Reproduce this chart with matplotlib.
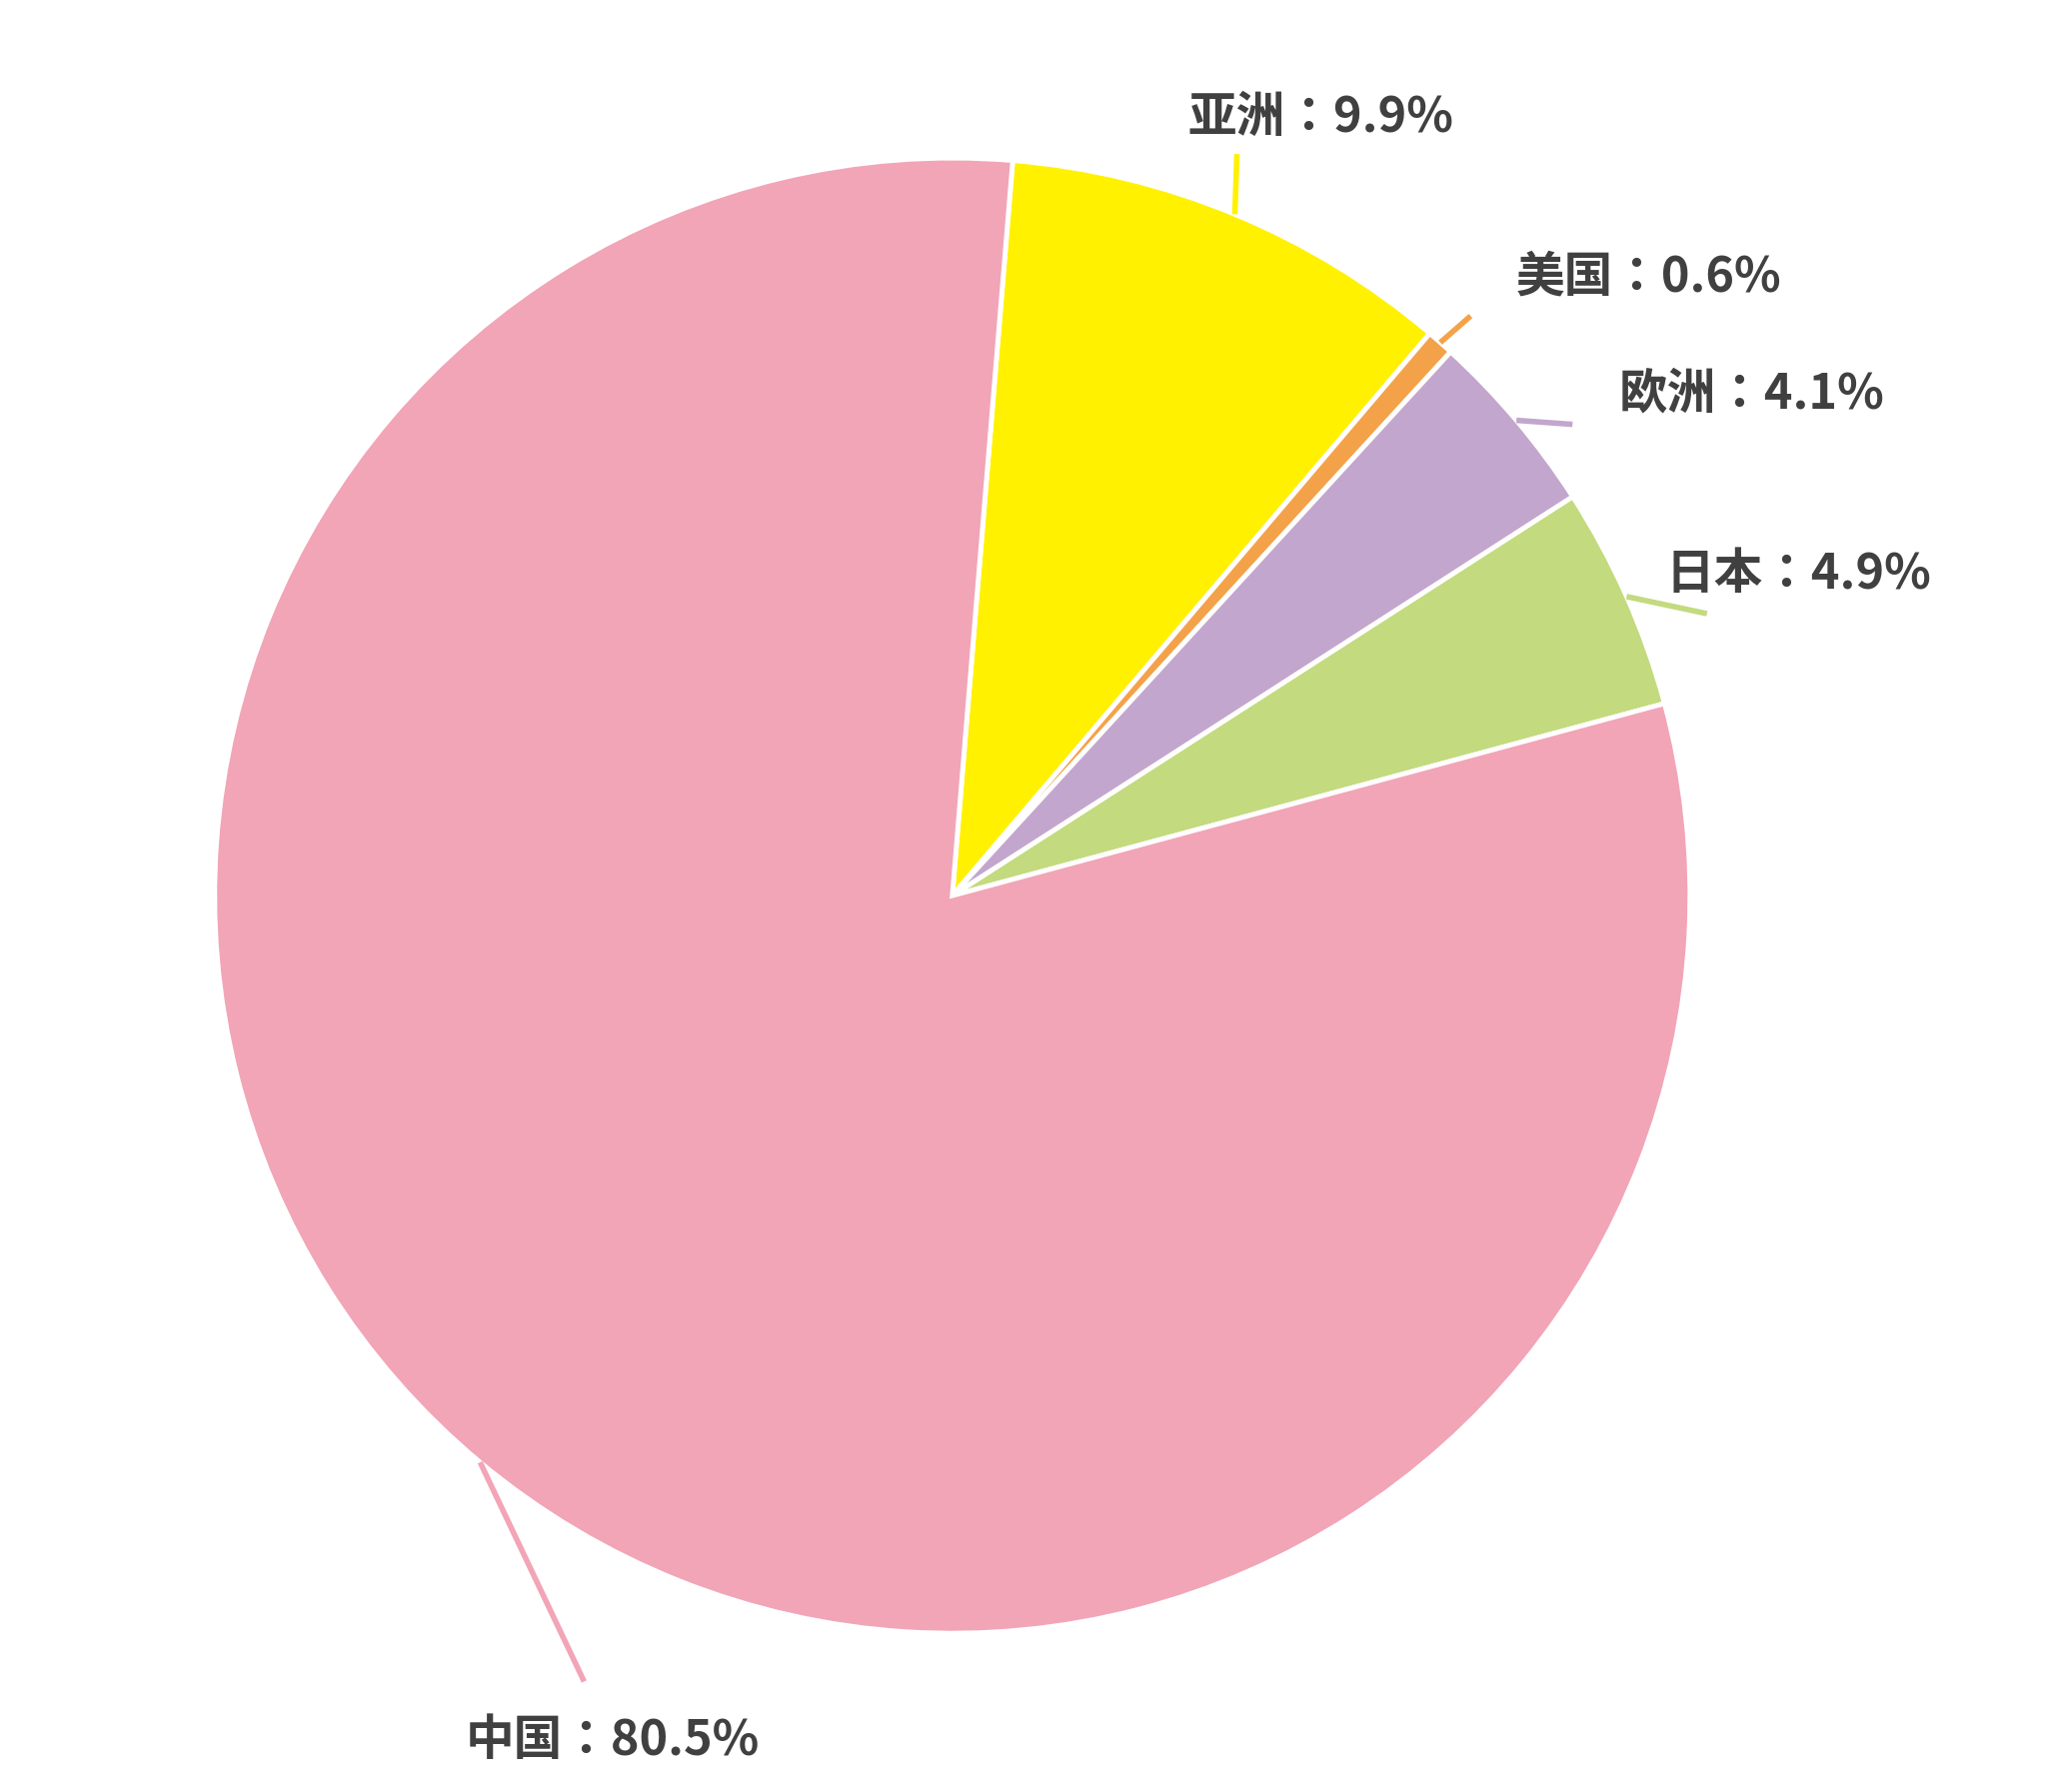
import numpy as np
import matplotlib
matplotlib.use("Agg")
import matplotlib.pyplot as plt

plt.rcParams["font.family"] = ["Noto Sans CJK JP", "DejaVu Sans"]

labels = ["亚洲", "美国", "欧洲", "日本", "中国"]
values = [9.9, 0.6, 4.1, 4.9, 80.5]
colors = ["#FFF100", "#F4A24A", "#C3A6CD", "#C3DA7E", "#F2A5B7"]

# label anchor points (displayed px of a 1568-wide view) and leader end points
label_pos = [(1012, 90), (1263, 212), (1342, 302), (1378, 440), (470, 1333)]
leader_end = [(948, 118), (1127, 242), (1205, 325), (1308, 470), (448, 1288)]
CX, CY, R = 730, 686, 565


def to_data(p):
    return ((p[0] - CX) / R, (CY - p[1]) / R)


fig = plt.figure(figsize=(20.48, 17.93), dpi=100)
ax = fig.add_axes([0, 0, 1, 1])
wedges, _ = ax.pie(values, colors=colors, startangle=85.3, counterclock=False,
                   wedgeprops=dict(edgecolor="white", linewidth=3.5))
ax.set_aspect("equal")
ax.set_xlim(-1.291, 1.484)
ax.set_ylim(-1.215, 1.214)
ax.axis("off")

for w, lab, v, col, lp, le in zip(wedges, labels, values, colors, label_pos, leader_end):
    mid = np.deg2rad((w.theta1 + w.theta2) / 2)
    sx, sy = np.cos(mid) * 1.0, np.sin(mid) * 1.0
    ex, ey = to_data(le)
    ax.plot([sx, ex], [sy, ey], color=col, lw=4, solid_capstyle="butt")
    tx, ty = to_data(lp)
    ax.text(tx, ty, "{}：{}%".format(lab, v), fontsize=35, fontweight="bold",
            color="#404040", ha="center", va="center")

fig.savefig("out.png", dpi=100)
